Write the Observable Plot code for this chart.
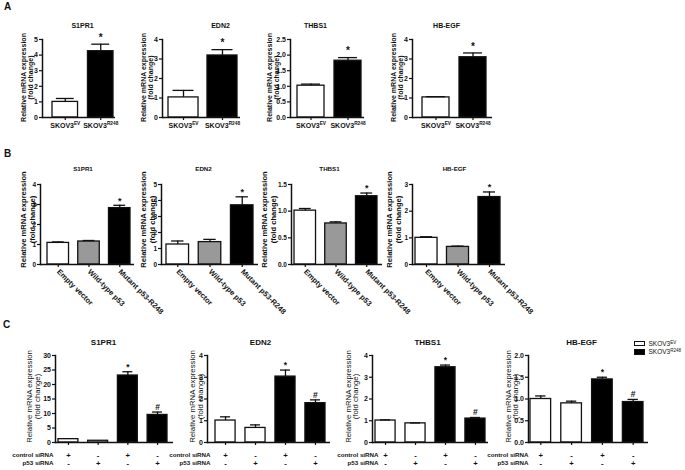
<!DOCTYPE html>
<html>
<head>
<meta charset="utf-8">
<script src="https://cdn.jsdelivr.net/npm/d3@7"></script>
<script src="https://cdn.jsdelivr.net/npm/@observablehq/plot@0.6"></script>
<style>
  body { margin: 0; background: #fff; }
  #fig { position: relative; width: 685px; height: 470px; overflow: hidden; background: #fff;
         font-family: "Liberation Sans", Arial, Helvetica, sans-serif; color: #111; }
  #fig .cell { position: absolute; }
  #fig svg { overflow: visible; }
  .letter { position: absolute; font-weight: bold; font-size: 10px; line-height: 10px; }
  .legtext { position: absolute; font-size: 6.5px; line-height: 6px; white-space: nowrap; }
  .legtext sup { font-size: 4.5px; vertical-align: 2px; line-height: 0; }
  .swatch { position: absolute; box-sizing: border-box; border: 1.2px solid #111; }
</style>
</head>
<body>
<div id="fig"></div>
<script>
// ---------------- DATA ----------------
const genes = ["S1PR1", "EDN2", "THBS1", "HB-EGF"];
const yAxisLabel = "Relative mRNA expression\n(fold change)";

// Panel A: SKOV3 EV vs R248
const groupsA = ["SKOV3^EV", "SKOV3^R248"];
const meansA  = [[1.00, 4.25], [1.03, 3.18], [1.02, 1.82], [1.03, 3.09]];
const errorsA = [[0.22, 0.45], [0.36, 0.30], [0.05, 0.10], [0.04, 0.22]];
const signifA = [["", "*"], ["", "*"], ["", "*"], ["", "*"]];
const yMaxA   = [5, 4, 2.5, 4];
const yTicksA = [[0, 1, 2, 3, 4, 5], [0, 1, 2, 3, 4], [0, 0.5, 1, 1.5, 2, 2.5], [0, 1, 2, 3, 4]];

// Panel B: transfections
const groupsB = ["Empty vector", "Wild-type p53", "Mutant p53-R248"];
const meansB  = [[1.08, 1.15, 2.82], [1.25, 1.40, 3.70], [1.01, 0.77, 1.28], [1.00, 0.66, 2.53]];
const errorsB = [[0.05, 0.05, 0.14], [0.22, 0.17, 0.53], [0.04, 0.03, 0.06], [0.04, 0.03, 0.19]];
const signifB = [["", "", "*"], ["", "", "*"], ["", "", "*"], ["", "", "*"]];
const yMaxB   = [4, 5, 1.5, 3];
const yTicksB = [[0, 1, 2, 3, 4], [0, 1, 2, 3, 4, 5], [0, 0.5, 1, 1.5], [0, 1, 2, 3]];

// Panel C: siRNA knock-down
const groupsC     = ["EV control", "EV p53", "R248 control", "R248 p53"];
const cellLineC   = ["SKOV3^EV", "SKOV3^EV", "SKOV3^R248", "SKOV3^R248"];
const controlSiRNA = ["+", "-", "+", "-"];
const p53SiRNA     = ["-", "+", "-", "+"];
const siRNARowLabels = ["control siRNA", "p53 siRNA"];
const meansC  = [[1.15, 0.60, 23.1, 9.5], [1.01, 0.67, 3.03, 1.81], [1.01, 0.88, 3.46, 1.10], [1.00, 0.90, 1.45, 0.93]];
const errorsC = [[0, 0, 1.3, 1.0], [0.17, 0.14, 0.30, 0.15], [0.03, 0.02, 0.10, 0.05], [0.07, 0.05, 0.05, 0.06]];
const signifC = [["", "", "*", "#"], ["", "", "*", "#"], ["", "", "*", "#"], ["", "", "*", "#"]];
const yMaxC   = [30, 4, 4, 2];
const yTicksC = [[0, 5, 10, 15, 20, 25, 30], [0, 1, 2, 3, 4], [0, 1, 2, 3, 4], [0, 0.5, 1, 1.5, 2]];

const legendLabels = ["SKOV3^EV", "SKOV3^R248"];
const panelLetters = ["A", "B", "C"];

// ---------------- LAYOUT & STYLE ----------------
const INK = "#111";
const fillsA = ["#fff", "#000"];
const fillsB = ["#fff", "#999", "#000"];
const fillsC = ["#fff", "#fff", "#000", "#000"];
const legendFills = ["#fff", "#000"];

const layoutA = { fy0: 39, fy1: 117, fx0: [42, 162, 290, 412], fx1: [115, 240, 364, 492],
  b0: [52, 168, 297, 422], b1: [113, 237, 361, 486], pi: [0.28, 0.23, 0.27, 0.27],
  labelX: [27, 147, 273, 396.5], labelY: 77, titleX: [82, 220, 315, 446], titleY: 25 };
const layoutB = { fy0: 184, fy1: 264, fx0: [40, 161, 291, 412], fx1: [134, 258, 382, 505],
  b0: [47, 166, 294, 415], b1: [130, 253, 377, 500], pi: [0.3, 0.3, 0.3, 0.3],
  labelX: [27.5, 147, 268, 393.5], labelY: 219, titleX: [82.5, 203, 329, 454], titleY: 169 };
const layoutC = { fy0: 355, fy1: 442, fx0: [55, 207, 372, 528], fx1: [173, 330, 488, 648],
  b0: [58, 215, 375, 530], b1: [167, 325, 485, 643], pi: [0.33, 0.33, 0.33, 0.33],
  labelX: [33, 196, 351.5, 511.5], labelY: 396, titleX: [103, 260, 427, 581], titleY: 342,
  rowLabelX: [53, 210, 378, 528], rowDy: [13, 21] };

const styleA = { titleFs: 7, labelFs: 7, labelWeight: "bold", labelLH: 1.0, tickFs: 7, xFs: 7,
  markFs: 10, capFrac: 0.7, sw: 1.3, axisW: 1.5, bottomPad: 18, markGap: 9 };
const styleB = { titleFs: 6.2, labelFs: 7.6, labelWeight: "bold", labelLH: 1.2, tickFs: 6.5, xFs: 7.5,
  markFs: 9, capFrac: 0.55, sw: 1.3, axisW: 1.5, bottomPad: 50, markGap: 7 };
const styleC = { titleFs: 8, labelFs: 7.8, labelWeight: "normal", labelLH: 1.0, tickFs: 7, xFs: 6.2,
  markFs: 8.5, capFrac: 0.5, sw: 1.3, axisW: 1.5, bottomPad: 28, markGap: 7 };

const fig = document.getElementById("fig");

function superscriptify(textEl, str, subFs, shift) {
  const parts = String(str).split("^");
  while (textEl.firstChild) textEl.removeChild(textEl.firstChild);
  textEl.appendChild(document.createTextNode(parts[0]));
  if (parts[1]) {
    const ts = document.createElementNS("http://www.w3.org/2000/svg", "tspan");
    ts.setAttribute("font-size", subFs);
    ts.setAttribute("dy", -shift);
    ts.textContent = parts[1];
    textEl.appendChild(ts);
  }
}

function drawPanel(o) {
  const n = o.groups.length;
  const st = o.st;
  const rows = o.groups.map((g, i) => ({
    g, v: o.means[i], e: o.errors[i], m: o.signif[i], fill: o.fills[i],
    r1: o.row1 ? o.row1[i] : "", r2: o.row2 ? o.row2[i] : ""
  }));
  const step = (o.b1 - o.b0) / (n - o.pi);
  const bw = step * (1 - o.pi);
  const capInset = bw * (1 - st.capFrac) / 2;
  const cell = { x: Math.floor(o.labelX - 8), y: Math.floor(o.titleY - 8) };
  cell.w = Math.ceil(o.fx1 + 8 - cell.x);
  cell.h = Math.ceil(o.fy1 + st.bottomPad - cell.y);
  const fmt = o.yTicks.some(t => !Number.isInteger(t)) ? d => d.toFixed(1) : d => String(d);
  const marks = [
    Plot.barY(rows, { x: "g", y: "v", fill: "fill", stroke: INK, strokeWidth: st.sw }),
    Plot.ruleX(rows.filter(d => d.e > 0), { x: "g", y1: "v", y2: d => d.v + d.e, stroke: INK, strokeWidth: st.sw }),
    Plot.tickY(rows.filter(d => d.e > 0), { x: "g", y: d => d.v + d.e, insetLeft: capInset, insetRight: capInset, stroke: INK, strokeWidth: st.sw }),
    Plot.text(rows.filter(d => d.m), { x: "g", y: d => d.v + d.e, text: "m", lineAnchor: "middle",
      dy: -(st.markGap) + 0.26 * st.markFs, fontSize: st.markFs, fontWeight: "bold", fill: INK }),
    Plot.frame({ anchor: "left", stroke: INK, strokeWidth: st.axisW }),
    Plot.ruleY([0], { stroke: INK, strokeWidth: st.axisW }),
    Plot.axisY({ ticks: o.yTicks, tickFormat: fmt, tickSize: 3, tickPadding: 1.5, fontSize: st.tickFs,
      fontWeight: "bold", strokeWidth: 1.2, label: null }),
    Plot.axisX({ tickSize: 3, tickPadding: o.xPad, tickFormat: o.xFormat, tickRotate: o.xRotate || 0,
      fontSize: st.xFs, fontWeight: "bold", strokeWidth: 1.2, label: null }),
    Plot.text([o.title], { frameAnchor: "top-left", dx: o.titleX - o.fx0, dy: o.titleY - o.fy0,
      text: d => d, textAnchor: "middle", lineAnchor: "middle", fontSize: st.titleFs, fontWeight: "bold", fill: INK }),
    Plot.text([yAxisLabel], { frameAnchor: "top-left", dx: o.labelX - o.fx0, dy: o.labelY - o.fy0,
      text: d => d, rotate: -90, textAnchor: "middle", lineAnchor: "middle", lineHeight: st.labelLH,
      fontSize: st.labelFs, fontWeight: st.labelWeight, fill: INK })
  ];
  if (o.row1) {
    [o.row1, o.row2].forEach((row, k) => {
      marks.push(Plot.text(rows, { x: "g", text: k === 0 ? "r1" : "r2", frameAnchor: "bottom", dy: o.rowDy[k],
        lineAnchor: "middle", fontSize: st.xFs + 1.5, fontWeight: "bold", fill: INK }));
      marks.push(Plot.text([siRNARowLabels[k]], { frameAnchor: "bottom-left", dx: o.rowLabelX - o.fx0, dy: o.rowDy[k],
        text: d => d, textAnchor: "end", lineAnchor: "middle", fontSize: st.xFs, fontWeight: "bold", fill: INK }));
    });
  }
  const svg = Plot.plot({
    width: cell.w, height: cell.h,
    marginLeft: o.fx0 - cell.x, marginRight: cell.x + cell.w - o.fx1,
    marginTop: o.fy0 - cell.y, marginBottom: cell.y + cell.h - o.fy1,
    style: { fontFamily: '"Liberation Sans", Arial, Helvetica, sans-serif', overflow: "visible", background: "transparent", color: INK },
    x: { domain: o.groups, range: [o.b0 - cell.x, o.b1 - cell.x], paddingInner: o.pi, paddingOuter: 0, round: false },
    y: { domain: [0, o.yMax], nice: false },
    color: { type: "identity" },
    marks
  });
  if (o.superscript) {
    svg.querySelectorAll('[aria-label="x-axis tick label"] text').forEach((t, i) => {
      superscriptify(t, o.groups[i], st.xFs * 0.68, 2.7);
    });
  }
  const wrap = document.createElement("div");
  wrap.className = "cell";
  wrap.style.left = cell.x + "px";
  wrap.style.top = cell.y + "px";
  wrap.appendChild(svg);
  fig.appendChild(wrap);
}

function section(L, st, groups, means, errors, signif, yMax, yTicks, fills, extra) {
  genes.forEach((gene, i) => {
    drawPanel(Object.assign({
      title: gene, groups, means: means[i], errors: errors[i], signif: signif[i], yMax: yMax[i], yTicks: yTicks[i],
      fills, st, fy0: L.fy0, fy1: L.fy1, fx0: L.fx0[i], fx1: L.fx1[i], b0: L.b0[i], b1: L.b1[i], pi: L.pi[i],
      labelX: L.labelX[i], labelY: L.labelY, titleX: L.titleX[i], titleY: L.titleY
    }, extra(i)));
  });
}

section(layoutA, styleA, groupsA, meansA, errorsA, signifA, yMaxA, yTicksA, fillsA,
  i => ({ xPad: 2.5, xFormat: d => d, superscript: true }));
section(layoutB, styleB, groupsB, meansB, errorsB, signifB, yMaxB, yTicksB, fillsB,
  i => ({ xPad: 3, xFormat: d => d, xRotate: 45 }));
section(layoutC, styleC, groupsC, meansC, errorsC, signifC, yMaxC, yTicksC, fillsC,
  i => ({ xPad: 3, xFormat: () => "", row1: controlSiRNA, row2: p53SiRNA,
          rowLabelX: layoutC.rowLabelX[i], rowDy: layoutC.rowDy }));

// panel letters
const letterPos = [[4, 2], [4, 149], [3, 320]];
panelLetters.forEach((L, i) => {
  const d = document.createElement("div");
  d.className = "letter";
  d.style.left = letterPos[i][0] + "px";
  d.style.top = letterPos[i][1] + "px";
  d.textContent = L;
  fig.appendChild(d);
});

// legend
const legendPos = { x: 634, y: 340.5, w: 11, h: 5.5, gap: 8.5, textX: 648.5 };
legendLabels.forEach((lab, i) => {
  const sw = document.createElement("div");
  sw.className = "swatch";
  sw.style.left = legendPos.x + "px";
  sw.style.top = (legendPos.y + i * legendPos.gap) + "px";
  sw.style.width = legendPos.w + "px";
  sw.style.height = legendPos.h + "px";
  sw.style.background = legendFills[i];
  fig.appendChild(sw);
  const t = document.createElement("div");
  t.className = "legtext";
  t.style.left = legendPos.textX + "px";
  t.style.top = (legendPos.y + i * legendPos.gap) + "px";
  const [base, sup] = lab.split("^");
  t.appendChild(document.createTextNode(base));
  const s = document.createElement("sup");
  s.textContent = sup;
  t.appendChild(s);
  fig.appendChild(t);
});
</script>
</body>
</html>
